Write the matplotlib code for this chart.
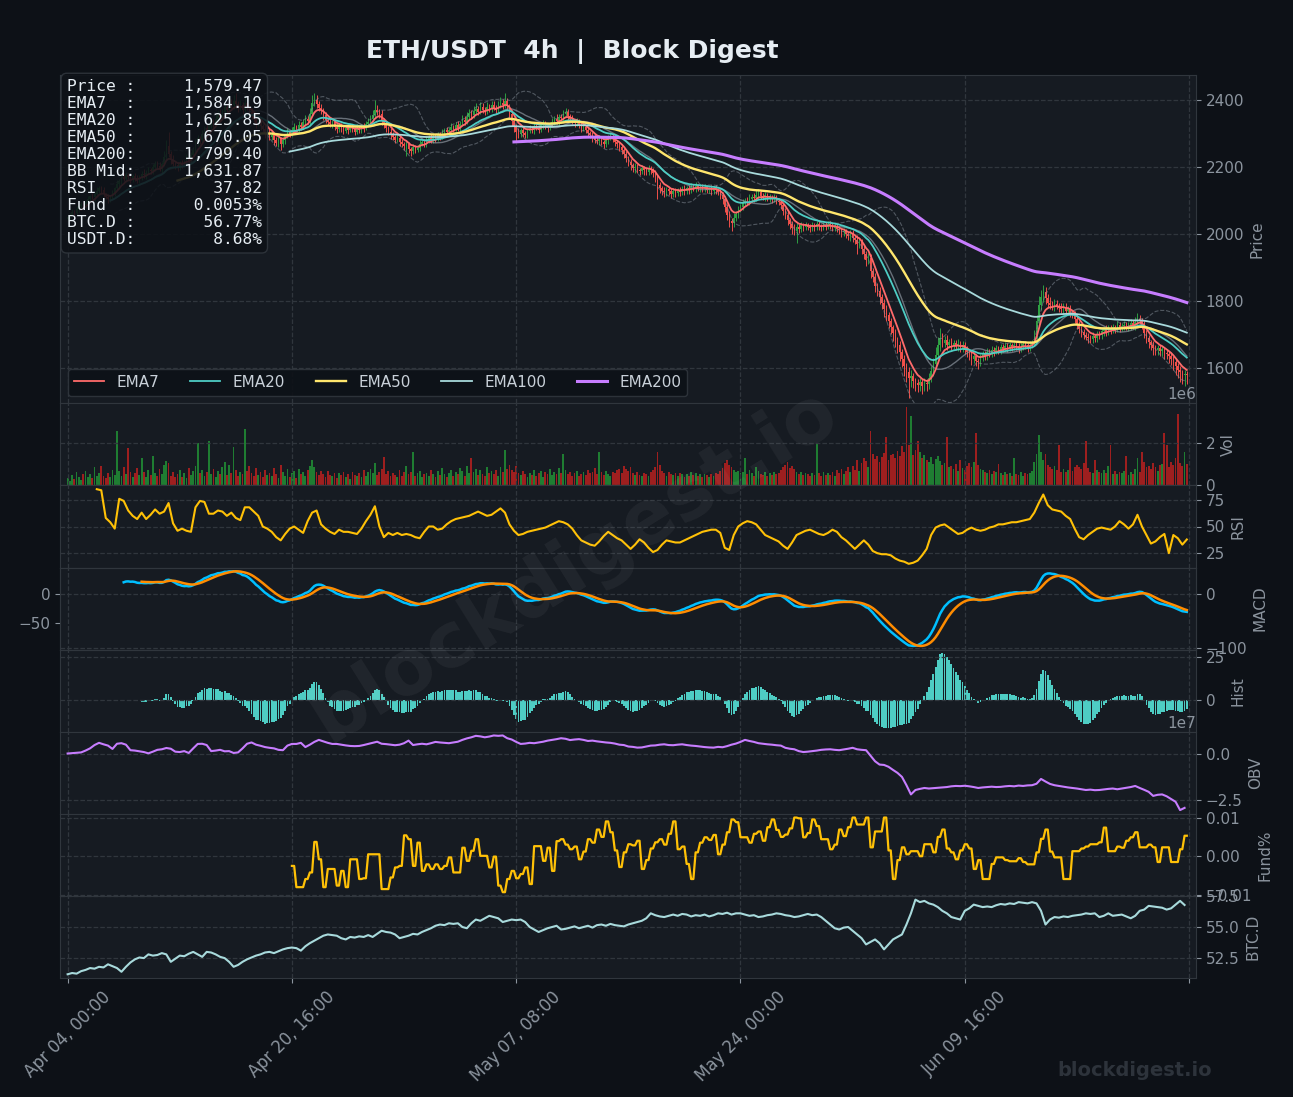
import numpy as np
import pandas as pd
import matplotlib
matplotlib.use('Agg')
import matplotlib.pyplot as plt
from matplotlib.ticker import FuncFormatter

plt.rcParams['font.family'] = ['DejaVu Sans']

# ---- data ----
start = '2023-04-04 00:00'   # 4h candles
first_open = 2045

close = [
 2050, 2058, 2067, 2064, 2075, 2083, 2090, 2088, 2097, 2106,
 2113, 2110, 2121, 2130, 2138, 2132, 2120, 2112, 2104, 2110,
 2124, 2137, 2150, 2158, 2171, 2166, 2178, 2170, 2163, 2175,
 2168, 2160, 2172, 2181, 2176, 2184, 2192, 2187, 2199, 2210,
 2203, 2195, 2208, 2230, 2262, 2240, 2222, 2210, 2205, 2198,
 2212, 2206, 2215, 2228, 2219, 2235, 2252, 2270, 2288, 2281,
 2300, 2316, 2309, 2325, 2338, 2331, 2345, 2358, 2350, 2366,
 2380, 2372, 2390, 2384, 2396, 2388, 2378, 2386, 2370, 2392,
 2381, 2366, 2352, 2345, 2330, 2338, 2322, 2315, 2300, 2306,
 2290, 2296, 2280, 2272, 2286, 2268, 2280, 2292, 2305, 2300,
 2312, 2320, 2314, 2326, 2320, 2334, 2345, 2338, 2360, 2392,
 2401, 2388, 2376, 2370, 2355, 2342, 2336, 2328, 2334, 2320,
 2314, 2322, 2316, 2308, 2318, 2312, 2320, 2314, 2306, 2318,
 2310, 2322, 2316, 2328, 2334, 2345, 2356, 2372, 2366, 2360,
 2340, 2328, 2318, 2305, 2296, 2290, 2282, 2288, 2276, 2270,
 2262, 2268, 2255, 2248, 2260, 2252, 2258, 2270, 2276, 2268,
 2282, 2288, 2280, 2292, 2286, 2295, 2290, 2300, 2310, 2305,
 2312, 2320, 2315, 2326, 2318, 2330, 2342, 2336, 2350, 2362,
 2355, 2368, 2374, 2366, 2380, 2372, 2368, 2380, 2375, 2386,
 2378, 2370, 2384, 2392, 2385, 2398, 2382, 2360, 2338, 2322,
 2305, 2298, 2310, 2302, 2296, 2308, 2315, 2310, 2322, 2318,
 2312, 2325, 2330, 2322, 2318, 2328, 2336, 2344, 2338, 2350,
 2346, 2358, 2364, 2352, 2345, 2338, 2332, 2336, 2326, 2318,
 2320, 2310, 2302, 2296, 2288, 2282, 2278, 2284, 2276, 2270,
 2280, 2288, 2292, 2284, 2276, 2268, 2260, 2250, 2240, 2226,
 2215, 2205, 2196, 2200, 2192, 2188, 2196, 2190, 2186, 2194,
 2190, 2182, 2170, 2148, 2138, 2130, 2125, 2134, 2128, 2120,
 2130, 2124, 2132, 2126, 2136, 2130, 2138, 2132, 2141, 2136,
 2145, 2138, 2142, 2135, 2140, 2133, 2136, 2130, 2138, 2132,
 2126, 2118, 2105, 2082, 2058, 2040, 2032, 2048, 2060, 2074,
 2082, 2092, 2100, 2098, 2106, 2112, 2108, 2118, 2126, 2114,
 2110, 2116, 2108, 2112, 2104, 2110, 2100, 2096, 2088, 2070,
 2058, 2042, 2030, 2018, 2010, 2022, 2016, 2026, 2020, 2028,
 2022, 2018, 2026, 2021, 2030, 2024, 2020, 2028, 2022, 2030,
 2026, 2019, 2024, 2016, 2012, 2005, 2008, 2000, 1994, 2002,
 1990, 1984, 1972, 1978, 1956, 1940, 1924, 1930, 1890, 1872,
 1845, 1830, 1812, 1795, 1776, 1760, 1740, 1722, 1706, 1684,
 1668, 1648, 1628, 1606, 1588, 1570, 1576, 1562, 1556, 1550,
 1558, 1548, 1556, 1552, 1570, 1592, 1612, 1640, 1668, 1690,
 1676, 1684, 1670, 1678, 1668, 1674, 1666, 1672, 1660, 1668,
 1655, 1648, 1640, 1628, 1636, 1622, 1618, 1630, 1642, 1636,
 1648, 1644, 1655, 1650, 1660, 1654, 1662, 1658, 1666, 1660,
 1668, 1662, 1670, 1666, 1658, 1664, 1672, 1668, 1660, 1670,
 1676, 1700, 1742, 1790, 1812, 1826, 1808, 1796, 1790, 1784,
 1792, 1786, 1780, 1776, 1784, 1772, 1778, 1766, 1760, 1746,
 1730, 1718, 1708, 1700, 1694, 1690, 1686, 1695, 1690, 1702,
 1698, 1710, 1716, 1708, 1720, 1714, 1722, 1716, 1728, 1720,
 1726, 1730, 1722, 1728, 1734, 1726, 1738, 1748, 1742, 1730,
 1706, 1690, 1678, 1668, 1660, 1654, 1660, 1652, 1656, 1646,
 1642, 1636, 1628, 1618, 1606, 1596, 1588, 1580, 1584, 1579.47,
]

up_wick = [
 6, 4, 8, 5, 9, 3, 7, 10, 5, 8,   4, 9, 6, 12, 7, 5, 10, 4, 8, 6,
 9, 5, 11, 7, 6, 12, 8, 4, 9, 6,   7, 10, 5, 8, 13, 6, 9, 5, 11, 7,
 8, 12, 6, 18, 20, 43, 9, 14, 6, 10,   5, 9, 7, 12, 6, 10, 8, 14, 9, 6,
 11, 7, 13, 8, 10, 6, 12, 9, 15, 7,   22, 10, 30, 12, 18, 25, 9, 14, 8, 20,
 10, 7, 12, 6, 9, 11, 5, 8, 10, 6,   8, 12, 6, 9, 7, 5, 10, 8, 12, 7,
 9, 11, 6, 13, 8, 10, 12, 7, 18, 22,   19, 14, 9, 11, 7, 10, 6, 12, 8, 5,
 9, 7, 11, 6, 8, 10, 5, 9, 7, 12,   6, 8, 11, 9, 14, 10, 16, 28, 12, 8,
 10, 7, 9, 6, 11, 8, 5, 10, 7, 9,   6, 12, 8, 5, 10, 7, 9, 11, 6, 8,
 10, 7, 12, 8, 6, 11, 9, 13, 7, 10,   8, 11, 6, 9, 12, 7, 14, 10, 16, 12,
 9, 13, 18, 8, 15, 11, 7, 14, 9, 12,   10, 8, 13, 16, 11, 24, 9, 7, 11, 6,
 8, 12, 7, 10, 6, 9, 11, 8, 12, 7,   9, 6, 11, 8, 10, 7, 12, 9, 14, 10,
 8, 13, 14, 9, 7, 11, 6, 10, 8, 5,   9, 7, 10, 6, 8, 11, 7, 12, 9, 6,
 10, 8, 12, 7, 9, 6, 8, 10, 7, 9,   6, 9, 7, 11, 8, 6, 10, 7, 9, 12,
 8, 6, 10, 7, 9, 5, 11, 8, 6, 10,   7, 9, 6, 10, 8, 11, 7, 9, 12, 8,
 10, 6, 9, 7, 11, 8, 6, 10, 7, 9,   6, 8, 7, 10, 9, 12, 8, 14, 10, 11,
 9, 12, 8, 10, 14, 9, 11, 16, 10, 7,   8, 11, 7, 9, 6, 10, 8, 7, 9, 6,
 8, 10, 6, 9, 12, 11, 8, 10, 7, 9,   6, 9, 11, 7, 10, 8, 6, 9, 7, 10,
 8, 6, 10, 7, 9, 6, 11, 8, 7, 10,   9, 7, 12, 10, 8, 11, 9, 14, 10, 8,
 12, 9, 11, 8, 10, 13, 9, 11, 8, 12,   10, 14, 9, 12, 10, 15, 18, 11, 9, 13,
 12, 10, 14, 11, 16, 15, 18, 22, 26, 30,   14, 12, 16, 10, 13, 9, 11, 14, 8, 12,
 9, 11, 8, 10, 12, 7, 9, 13, 10, 8,   11, 9, 12, 8, 10, 7, 11, 9, 12, 8,
 10, 7, 9, 11, 8, 12, 9, 10, 7, 11,   9, 14, 18, 25, 20, 22, 15, 12, 16, 10,
 13, 11, 9, 14, 10, 12, 9, 11, 8, 10,   9, 12, 8, 10, 7, 11, 9, 13, 8, 10,
 9, 11, 8, 12, 10, 9, 11, 8, 12, 10,   9, 12, 8, 11, 13, 10, 16, 18, 12, 9,
 11, 8, 10, 7, 12, 9, 10, 8, 11, 7,   10, 8, 12, 9, 11, 8, 10, 7, 12, 9,
]

dn_wick = [
 5, 8, 4, 9, 6, 10, 5, 7, 9, 4,   8, 6, 10, 5, 7, 12, 9, 6, 11, 8,
 6, 9, 5, 10, 7, 8, 11, 6, 9, 7,   10, 8, 6, 9, 7, 11, 5, 8, 6, 10,
 9, 7, 11, 6, 8, 10, 14, 8, 12, 9,   7, 10, 6, 9, 11, 8, 6, 10, 7, 12,
 8, 6, 11, 9, 7, 12, 8, 10, 6, 9,   10, 8, 12, 7, 9, 11, 14, 8, 10, 6,
 9, 12, 8, 10, 14, 7, 11, 9, 12, 8,   10, 8, 13, 9, 11, 18, 7, 10, 6, 9,
 8, 11, 7, 10, 9, 6, 12, 8, 10, 7,   9, 12, 8, 10, 13, 9, 11, 7, 10, 8,
 11, 8, 10, 9, 7, 12, 8, 10, 11, 7,   9, 8, 10, 6, 9, 7, 11, 8, 10, 12,
 14, 10, 12, 9, 11, 8, 10, 7, 12, 9,   11, 30, 12, 14, 9, 11, 8, 10, 7, 9,
 8, 10, 7, 9, 11, 8, 10, 6, 9, 8,   9, 7, 10, 8, 11, 9, 7, 10, 8, 6,
 10, 8, 9, 11, 7, 10, 12, 8, 9, 11,   8, 12, 9, 7, 10, 8, 12, 14, 16, 18,
 30, 12, 9, 11, 8, 10, 7, 9, 11, 8,   10, 8, 11, 9, 12, 7, 9, 10, 8, 11,
 9, 11, 8, 12, 10, 9, 11, 8, 10, 12,   11, 9, 12, 10, 14, 11, 9, 12, 10, 13,
 9, 11, 8, 10, 12, 11, 13, 10, 14, 12,   11, 13, 10, 12, 9, 11, 8, 12, 10, 9,
 11, 12, 14, 42, 16, 12, 14, 10, 12, 11,   9, 12, 10, 11, 8, 12, 9, 11, 10, 8,
 11, 9, 12, 10, 8, 11, 9, 12, 10, 11,   9, 12, 14, 16, 15, 18, 22, 12, 10, 11,
 9, 11, 8, 12, 10, 9, 11, 8, 12, 10,   9, 11, 8, 12, 10, 9, 11, 10, 12, 14,
 13, 15, 16, 18, 14, 35, 12, 10, 11, 9,   10, 12, 9, 11, 8, 12, 10, 9, 11, 8,
 12, 10, 11, 9, 13, 14, 11, 12, 10, 13,   12, 14, 30, 12, 16, 15, 18, 14, 20, 16,
 18, 15, 20, 17, 22, 18, 21, 19, 24, 20,   22, 26, 24, 30, 28, 60, 26, 22, 25, 20,
 18, 24, 16, 20, 15, 12, 14, 10, 12, 16,   14, 12, 16, 11, 13, 10, 12, 14, 11, 13,
 12, 14, 16, 18, 12, 15, 20, 12, 10, 13,   11, 12, 10, 13, 9, 11, 12, 10, 8, 11,
 10, 12, 9, 11, 13, 10, 9, 12, 11, 10,   9, 8, 12, 14, 16, 13, 15, 12, 14, 11,
 12, 10, 13, 11, 14, 12, 10, 13, 11, 12,   14, 12, 15, 13, 11, 14, 12, 10, 13, 11,
 12, 10, 13, 11, 9, 12, 10, 11, 9, 12,   10, 12, 9, 11, 13, 10, 12, 9, 11, 14,
 16, 14, 18, 15, 20, 16, 14, 17, 15, 18,   16, 20, 18, 22, 26, 24, 30, 28, 32, 26,
]

# volume, millions of ETH
volume = [
 0.35, 0.22, 0.48, 0.30, 0.62, 0.41, 0.28, 0.55, 0.70, 0.38,
 0.52, 0.33, 0.85, 0.44, 0.60, 0.92, 0.47, 0.36, 0.58, 0.40,
 0.75, 0.50, 2.60, 0.68, 0.45, 0.88, 0.54, 1.75, 0.62, 0.39,
 0.57, 0.83, 0.48, 1.30, 0.66, 0.41, 0.72, 0.50, 1.40, 0.61,
 0.44, 0.79, 0.53, 0.95, 1.15, 1.05, 0.47, 0.63, 0.38, 0.56,
 0.74, 0.42, 0.60, 0.35, 0.82, 0.51, 0.67, 0.90, 2.00, 0.58,
 0.71, 0.46, 0.64, 2.10, 0.55, 0.77, 0.40, 0.69, 0.52, 0.86,
 1.10, 0.48, 0.95, 0.61, 1.80, 0.73, 0.45, 0.66, 0.54, 2.65,
 0.70, 0.92, 0.57, 0.43, 0.81, 0.49, 0.65, 0.38, 0.72, 0.51,
 0.60, 0.44, 0.83, 0.55, 0.37, 0.98, 0.62, 0.47, 0.76, 0.41,
 0.58, 0.69, 0.35, 0.80, 0.52, 0.64, 0.45, 0.73, 0.90, 1.20,
 0.85, 0.62, 0.48, 0.70, 0.55, 0.39, 0.67, 0.51, 0.44, 0.60,
 0.36, 0.57, 0.48, 0.66, 0.42, 0.54, 0.31, 0.63, 0.50, 0.45,
 0.59, 0.38, 0.71, 0.47, 0.64, 0.80, 0.58, 1.05, 0.49, 0.62,
 0.77, 1.35, 0.56, 0.68, 0.43, 0.59, 0.51, 0.40, 0.72, 0.47,
 0.63, 0.90, 0.54, 0.66, 1.60, 0.45, 0.58, 0.70, 0.41, 0.52,
 0.61, 0.46, 0.75, 0.53, 0.38, 0.67, 0.49, 0.84, 0.56, 0.42,
 0.60, 0.74, 0.47, 0.65, 0.52, 0.81, 0.69, 0.44, 0.93, 0.58,
 1.30, 0.62, 0.77, 0.50, 0.71, 0.55, 0.43, 0.88, 0.60, 0.68,
 0.52, 0.74, 0.47, 0.85, 0.63, 1.70, 0.80, 0.95, 0.72, 0.66,
 0.90, 0.58, 0.49, 0.67, 0.54, 0.42, 0.61, 0.50, 0.73, 0.45,
 0.57, 0.68, 0.41, 0.62, 0.52, 0.76, 0.48, 0.66, 0.55, 0.83,
 0.60, 1.50, 0.71, 0.53, 0.64, 0.47, 0.58, 0.69, 0.44, 0.56,
 0.62, 0.49, 0.75, 0.57, 0.66, 0.81, 0.52, 1.60, 0.63, 0.48,
 0.70, 0.55, 0.43, 0.64, 0.58, 0.72, 0.80, 0.61, 0.93, 0.76,
 0.68, 0.85, 0.57, 0.49, 0.63, 0.51, 0.45, 0.60, 0.54, 0.47,
 0.66, 0.73, 0.88, 1.60, 0.95, 0.70, 0.58, 0.46, 0.62, 0.53,
 0.49, 0.57, 0.44, 0.61, 0.52, 0.40, 0.55, 0.47, 0.63, 0.50,
 0.58, 0.45, 0.52, 0.41, 0.56, 0.48, 0.39, 0.54, 0.46, 0.60,
 0.55, 0.68, 0.82, 1.05, 1.20, 0.96, 0.88, 0.74, 0.62, 0.70,
 0.58, 0.66, 1.30, 0.52, 0.73, 0.60, 0.47, 0.85, 0.69, 0.55,
 0.50, 0.62, 0.45, 0.57, 0.49, 0.64, 0.53, 0.60, 0.71, 0.88,
 0.95, 1.10, 0.84, 0.92, 0.78, 0.66, 0.55, 0.62, 0.48, 0.59,
 0.52, 0.45, 0.61, 0.50, 2.00, 0.57, 0.44, 0.63, 0.49, 0.58,
 0.51, 0.66, 0.47, 0.72, 0.60, 0.78, 0.53, 0.69, 0.85, 0.62,
 0.90, 0.75, 1.20, 0.68, 1.05, 1.30, 1.15, 0.88, 2.60, 1.50,
 1.25, 1.40, 1.10, 1.35, 1.55, 2.30, 1.20, 1.45, 1.50, 1.30,
 1.65, 1.40, 1.85, 1.60, 3.70, 1.90, 3.30, 1.45, 1.70, 2.10,
 1.60, 1.30, 1.45, 1.20, 1.10, 1.35, 1.00, 1.25, 1.40, 1.15,
 0.95, 1.05, 2.30, 0.85, 0.92, 0.78, 1.00, 0.70, 1.20, 0.82,
 0.75, 0.90, 1.05, 0.88, 1.10, 2.50, 0.95, 0.80, 0.72, 0.66,
 0.60, 0.74, 0.55, 0.68, 0.62, 1.00, 0.58, 0.49, 0.65, 0.54,
 0.61, 0.47, 1.30, 0.56, 0.50, 0.63, 0.45, 0.58, 0.52, 0.60,
 0.70, 1.10, 1.50, 2.40, 1.60, 1.20, 1.50, 0.95, 0.85, 0.78,
 0.90, 0.72, 1.90, 0.66, 0.80, 0.62, 0.75, 1.30, 0.68, 0.85,
 0.95, 0.88, 0.76, 1.05, 2.10, 0.82, 0.64, 0.59, 1.20, 0.71,
 0.66, 0.58, 0.74, 0.61, 0.90, 1.90, 0.55, 0.68, 0.52, 0.63,
 0.57, 0.70, 1.40, 0.49, 0.62, 0.55, 0.78, 1.30, 0.66, 1.60,
 1.10, 0.85, 0.92, 0.76, 1.05, 0.88, 0.70, 0.95, 1.00, 2.50,
 1.90, 0.85, 1.10, 0.95, 1.30, 3.40, 1.05, 0.90, 1.60, 1.00,
]

# RSI(14), one reading every 2 candles starting at candle 13
rsi = [
 85, 84, 58, 54, 48, 76, 74, 65, 60, 57,
 63, 57, 61, 66, 62, 64, 72, 53, 46, 48,
 46, 45, 68, 74, 73, 62, 62, 65, 64, 60,
 63, 58, 56, 68, 68, 64, 60, 50, 48, 45,
 40, 37, 43, 48, 50, 47, 44, 55, 63, 65,
 52, 48, 45, 43, 47, 45, 45, 44, 43, 48,
 55, 61, 69, 50, 40, 44, 42, 44, 42, 43,
 42, 40, 39, 45, 50, 50, 47, 48, 52, 55,
 57, 58, 59, 60, 62, 64, 62, 60, 61, 64,
 67, 63, 52, 46, 42, 43, 45, 46, 47, 48,
 49, 51, 53, 55, 54, 52, 48, 42, 37, 35,
 33, 32, 36, 41, 45, 42, 39, 37, 33, 29,
 33, 38, 35, 30, 26, 28, 33, 37, 36, 35,
 35, 37, 39, 41, 43, 45, 46, 47, 47, 44,
 30, 28, 42, 50, 53, 55, 54, 52, 47, 42,
 40, 38, 36, 32, 29, 35, 42, 44, 46, 47,
 45, 43, 42, 44, 47, 45, 40, 37, 33, 29,
 33, 37, 33, 27, 25, 24, 24, 23, 20, 18,
 17, 15, 16, 18, 23, 29, 42, 49, 51, 52,
 49, 46, 43, 44, 47, 49, 47, 46, 47, 49,
 50, 52, 52, 53, 54, 54, 55, 56, 57, 63,
 72, 80, 70, 66, 65, 64, 60, 57, 48, 40,
 38, 42, 45, 48, 49, 48, 47, 50, 55, 52,
 48, 52, 61, 50, 42, 34, 36, 40, 43, 25,
 42, 39, 33, 37.82,
]
rsi_start = 13

# OBV (x1e7), one reading every 2 candles
obv = [
 0.02, 0.04, 0.06, 0.08, 0.18, 0.30, 0.48, 0.60, 0.52, 0.45,
 0.27, 0.55, 0.58, 0.50, 0.20, 0.18, 0.14, 0.10, 0.03, 0.12,
 0.22, 0.25, 0.32, 0.28, 0.12, 0.10, 0.15, 0.05, 0.30, 0.54,
 0.55, 0.48, 0.15, 0.18, 0.22, 0.14, 0.15, 0.05, 0.08, 0.30,
 0.55, 0.62, 0.50, 0.44, 0.37, 0.33, 0.30, 0.22, 0.20, 0.45,
 0.54, 0.54, 0.60, 0.37, 0.50, 0.65, 0.76, 0.68, 0.60, 0.54,
 0.54, 0.50, 0.46, 0.43, 0.42, 0.43, 0.48, 0.54, 0.60, 0.66,
 0.55, 0.53, 0.50, 0.47, 0.50, 0.58, 0.72, 0.48, 0.52, 0.55,
 0.52, 0.58, 0.65, 0.62, 0.60, 0.58, 0.62, 0.66, 0.76, 0.84,
 0.90, 0.98, 0.95, 0.90, 0.94, 1.00, 0.98, 1.00, 0.85, 0.78,
 0.65, 0.54, 0.56, 0.60, 0.58, 0.62, 0.66, 0.72, 0.76, 0.80,
 0.85, 0.82, 0.75, 0.78, 0.80, 0.76, 0.70, 0.72, 0.68, 0.65,
 0.62, 0.60, 0.56, 0.50, 0.48, 0.40, 0.38, 0.34, 0.35, 0.40,
 0.45, 0.46, 0.50, 0.52, 0.48, 0.47, 0.50, 0.52, 0.48, 0.45,
 0.43, 0.40, 0.37, 0.35, 0.34, 0.38, 0.36, 0.42, 0.50, 0.56,
 0.65, 0.76, 0.70, 0.65, 0.58, 0.55, 0.52, 0.50, 0.47, 0.45,
 0.33, 0.28, 0.25, 0.15, 0.10, 0.12, 0.15, 0.18, 0.22, 0.24,
 0.25, 0.22, 0.20, 0.24, 0.28, 0.33, 0.25, 0.22, 0.20, -0.10,
 -0.40, -0.58, -0.60, -0.70, -0.87, -1.03, -1.25, -1.70, -2.20, -1.96,
 -1.90, -1.85, -1.88, -1.86, -1.84, -1.82, -1.80, -1.76, -1.74, -1.75,
 -1.73, -1.76, -1.80, -1.85, -1.82, -1.80, -1.78, -1.80, -1.79, -1.76,
 -1.74, -1.76, -1.72, -1.74, -1.71, -1.70, -1.62, -1.36, -1.50, -1.63,
 -1.70, -1.74, -1.78, -1.82, -1.85, -1.88, -1.92, -1.96, -1.94, -1.97,
 -1.96, -1.93, -1.90, -1.88, -1.92, -1.88, -1.84, -1.80, -1.74, -1.85,
 -1.95, -2.06, -2.28, -2.22, -2.20, -2.30, -2.45, -2.60, -3.05, -2.93,
]

# funding rate in %, one print per 8h, starting Apr 20 16:00
funding = [
 -0.0025, -0.0080, -0.0080, -0.0059, -0.0042, 0.0037, -0.0008, -0.0080, -0.0033, -0.0033,
 -0.0076, -0.0038, -0.0080, -0.0008, -0.0008, -0.0059, -0.0057, 0.0005, 0.0005, 0.0005,
 -0.0085, -0.0085, -0.0055, -0.0029, -0.0025, 0.0054, 0.0044, -0.0025, 0.0035, -0.0038,
 -0.0021, -0.0033, -0.0021, -0.0033, -0.0025, -0.0003, -0.0042, -0.0042, 0.0022, -0.0012,
 0.0014, 0.0044, 0.0001, 0.0001, -0.0029, -0.0001, -0.0076, -0.0093, -0.0059, -0.0038,
 -0.0057, -0.0046, -0.0029, -0.0072, 0.0026, 0.0026, -0.0012, 0.0022, -0.0038, 0.0039,
 0.0044, 0.0030, 0.0018, 0.0025, -0.0008, 0.0012, 0.0044, 0.0035, 0.0069, 0.0050,
 0.0090, 0.0062, 0.0015, -0.0028, 0.0010, 0.0031, 0.0028, 0.0040, -0.0033, -0.0010,
 0.0020, 0.0036, 0.0044, 0.0030, 0.0058, 0.0090, 0.0018, 0.0025, -0.0020, -0.0059,
 0.0010, 0.0035, 0.0049, 0.0042, 0.0055, 0.0005, 0.0030, 0.0062, 0.0095, 0.0088,
 0.0049, 0.0049, 0.0035, 0.0058, 0.0064, 0.0040, 0.0075, 0.0095, 0.0068, 0.0050,
 0.0056, 0.0072, 0.0100, 0.0098, 0.0049, 0.0060, 0.0095, 0.0078, 0.0044, 0.0044,
 0.0018, 0.0030, 0.0069, 0.0052, 0.0075, 0.0100, 0.0082, 0.0082, 0.0100, 0.0023,
 0.0064, 0.0064, 0.0100, 0.0015, -0.0059, -0.0010, 0.0023, 0.0005, 0.0013, 0.0013,
 0.0000, 0.0031, 0.0031, 0.0010, 0.0050, 0.0069, 0.0020, 0.0010, -0.0008, 0.0015,
 0.0031, 0.0020, -0.0033, -0.0010, -0.0059, -0.0059, -0.0020, -0.0003, -0.0003, -0.0010,
 -0.0013, -0.0013, -0.0005, -0.0015, -0.0021, -0.0021, 0.0010, 0.0045, 0.0069, 0.0012,
 -0.0003, -0.0003, -0.0059, -0.0059, 0.0013, 0.0013, 0.0020, 0.0025, 0.0031, 0.0031,
 0.0036, 0.0074, 0.0013, 0.0013, 0.0025, 0.0022, 0.0040, 0.0049, 0.0062, 0.0023,
 0.0023, 0.0030, 0.0023, -0.0015, 0.0023, 0.0023, -0.0015, -0.0015, 0.0018, 0.0053,
]
funding_start = 100

# BTC dominance %, one reading every 2 candles
btc_d = [
 51.20, 51.30, 51.25, 51.45, 51.55, 51.70, 51.65, 51.80, 51.75, 52.00,
 51.85, 51.70, 51.40, 51.80, 52.15, 52.40, 52.55, 52.50, 52.80, 52.70,
 52.75, 52.90, 52.80, 52.20, 52.45, 52.70, 52.65, 52.85, 53.00, 52.80,
 52.60, 53.00, 52.95, 52.80, 52.60, 52.50, 52.20, 51.80, 51.95, 52.20,
 52.40, 52.55, 52.70, 52.80, 52.95, 53.00, 52.90, 53.05, 53.20, 53.30,
 53.35, 53.30, 53.10, 53.45, 53.70, 53.90, 54.10, 54.30, 54.40, 54.35,
 54.30, 54.10, 54.00, 54.20, 54.15, 54.25, 54.20, 54.35, 54.20, 54.45,
 54.70, 54.60, 54.55, 54.40, 54.10, 54.20, 54.30, 54.45, 54.40, 54.60,
 54.75, 54.90, 55.10, 55.20, 55.15, 55.30, 55.25, 55.30, 55.00, 54.90,
 55.30, 55.60, 55.50, 55.70, 55.90, 55.80, 55.70, 55.40, 55.50, 55.60,
 55.55, 55.60, 55.40, 55.00, 54.80, 54.60, 54.75, 54.90, 55.00, 55.10,
 54.80, 54.85, 54.95, 55.05, 54.90, 55.00, 55.10, 54.95, 55.15, 55.20,
 55.10, 55.25, 55.15, 55.10, 55.05, 55.20, 55.30, 55.40, 55.50, 55.70,
 56.10, 55.95, 55.85, 55.80, 55.90, 56.00, 55.90, 56.05, 56.00, 55.85,
 55.95, 55.90, 56.00, 55.85, 55.95, 56.10, 56.05, 56.15, 56.00, 56.10,
 56.10, 56.00, 55.90, 55.95, 55.80, 55.85, 55.95, 56.00, 56.10, 56.05,
 55.95, 55.90, 55.80, 55.85, 55.95, 56.05, 55.95, 56.00, 55.80, 55.50,
 55.20, 54.90, 54.80, 54.95, 55.00, 54.70, 54.40, 54.10, 53.60, 53.80,
 54.00, 53.70, 53.20, 53.60, 54.00, 54.20, 54.40, 55.20, 56.10, 57.20,
 57.00, 57.10, 56.90, 56.80, 56.60, 56.30, 56.10, 55.80, 55.70, 55.60,
 56.30, 56.50, 56.80, 56.70, 56.60, 56.65, 56.60, 56.75, 56.85, 56.80,
 56.90, 56.85, 57.00, 56.95, 56.90, 57.00, 56.90, 56.30, 55.20, 55.60,
 55.80, 55.75, 55.85, 55.80, 55.90, 55.95, 56.00, 56.10, 56.05, 56.10,
 55.80, 55.90, 56.10, 55.90, 55.95, 56.00, 55.85, 55.70, 55.90, 56.30,
 56.40, 56.70, 56.65, 56.60, 56.55, 56.40, 56.50, 56.80, 57.10, 56.77,
]

info_labels = ['Price', 'EMA7', 'EMA20', 'EMA50', 'EMA200', 'BB Mid', 'RSI', 'Fund', 'BTC.D', 'USDT.D']
info_values = ['1,579.47', '1,584.19', '1,625.85', '1,670.05', '1,799.40', '1,631.87',
               '37.82', '0.0053%', '56.77%', '8.68%']

ema_spans = [7, 20, 50, 100, 200]
ema_colors = ['#ff6b6b', '#4ecdc4', '#ffe66d', '#a8dadc', '#c77dff']
ema_widths = [1.3, 1.3, 1.7, 1.3, 2.2]

# ---- style ----
BG = '#0d1117'
PANEL = '#161b22'
GRID = '#30363d'
TXT = '#8b949e'
UP = '#2ea043'
DN = '#f0504a'

n = len(close)
assert all(len(a) == n for a in (up_wick, dn_wick, volume)), (len(close), len(up_wick), len(dn_wick), len(volume))
dates = pd.date_range(start, periods=n, freq='4h')
idx = np.arange(n)
c = pd.Series(close, dtype=float)
o = np.r_[first_open, c.values[:-1]]
hi = np.maximum(o, c.values) + np.array(up_wick)
lo = np.minimum(o, c.values) - np.array(dn_wick)
vol = np.array(volume) * 1e6
rising = c.values >= o

# indicators from the closes
emas = [c.ewm(span=s, adjust=False, min_periods=s).mean() for s in ema_spans]
bb_mid = c.rolling(20).mean()
bb_sd = c.rolling(20).std()
e12 = c.ewm(span=12, adjust=False, min_periods=12).mean()
e26 = c.ewm(span=26, adjust=False, min_periods=26).mean()
macd = e12 - e26
signal = macd.ewm(span=9, adjust=False, min_periods=9).mean()
hist = macd - signal

fig = plt.figure(figsize=(12.93, 10.97), dpi=100, facecolor=BG)
gs = fig.add_gridspec(8, 1, height_ratios=[4, 1, 1, 1, 1, 1, 1, 1],
                      left=60/1293, right=1196/1293, top=1-75/1097, bottom=1-978/1097, hspace=0)
axes = [fig.add_subplot(gs[0])]
for k in range(1, 8):
    axes.append(fig.add_subplot(gs[k], sharex=axes[0]))

def style(ax, ylabel):
    ax.set_facecolor(PANEL)
    for s in ax.spines.values():
        s.set_color(GRID)
    ax.yaxis.tick_right()
    ax.yaxis.set_label_position('right')
    ax.tick_params(colors=TXT, labelsize=11)
    ax.yaxis.get_offset_text().set_color(TXT)
    ax.yaxis.get_offset_text().set_fontsize(11)
    ax.grid(True, linestyle='--', color=GRID, linewidth=0.9)
    ax.set_ylabel(ylabel, color=TXT, fontsize=11)

labels = ['Price', 'Vol', 'RSI', 'MACD', 'Hist', 'OBV', 'Fund%', 'BTC.D']
for ax, lab in zip(axes, labels):
    style(ax, lab)

# price panel
ax = axes[0]
ax.vlines(idx, lo, hi, colors=np.where(rising, UP, DN), linewidth=0.7, zorder=2)
ax.bar(idx, np.abs(c.values - o), bottom=np.minimum(o, c.values), width=0.65,
       color=np.where(rising, UP, DN), linewidth=0, zorder=2)
ax.plot(idx, bb_mid + 2 * bb_sd, color=TXT, lw=0.8, ls='--', alpha=0.5, zorder=3)
ax.plot(idx, bb_mid - 2 * bb_sd, color=TXT, lw=0.8, ls='--', alpha=0.5, zorder=3)
ax.plot(idx, bb_mid, color=TXT, lw=1.0, alpha=0.7, zorder=3)
for e, s, col, w in zip(emas, ema_spans, ema_colors, ema_widths):
    ax.plot(idx, e, color=col, lw=w, label=f'EMA{s}', zorder=4)
ax.set_ylim(1495, 2475)
leg = ax.legend(loc='lower left', ncol=5, fontsize=11, facecolor=BG, edgecolor=GRID,
                labelcolor='#c9d1d9', framealpha=0.9, borderaxespad=0.5, columnspacing=2.0)
leg.set_zorder(6)

info = '\n'.join(f'{l:<6}:{v:>13}' for l, v in zip(info_labels, info_values))
ax.text(0.006, 0.988, info, transform=ax.transAxes, va='top', ha='left',
        family='DejaVu Sans Mono', fontsize=11.7, color='#e6edf3', linespacing=1.17,
        bbox=dict(boxstyle='round,pad=0.35', fc=BG, ec=GRID, alpha=0.88), zorder=10)

# volume
axes[1].bar(idx, vol, width=0.8, color=np.where(rising, '#1f7d32', '#9e1f1f'), linewidth=0)

# RSI
axes[2].plot(np.arange(rsi_start, rsi_start + 2 * len(rsi), 2), rsi, color='#ffc107', lw=1.5)

# MACD: macd on the right axis, signal on a twin with its own scale on the left
axm = axes[3]
axm.plot(idx, macd, color='#00bfff', lw=1.8)
axs = axm.twinx()
axs.plot(idx, signal, color='#ff8c00', lw=1.8)
axs.yaxis.tick_left()
axs.tick_params(colors=TXT, labelsize=11)
for s in axs.spines.values():
    s.set_color(GRID)
axm.yaxis.tick_right()
axm.yaxis.set_label_position('right')

# histogram
axes[4].bar(idx, hist, width=0.8, color='#4ecdc4', linewidth=0)

# OBV
axes[5].plot(np.arange(0, 2 * len(obv), 2), np.array(obv) * 1e7, color='#c77dff', lw=1.5)

# funding
f_idx = np.arange(funding_start, funding_start + 2 * len(funding))
axes[6].plot(f_idx, np.repeat(funding, 2), color='#ffc107', lw=1.6)

# BTC dominance
axes[7].plot(np.arange(0, 2 * len(btc_d), 2), btc_d, color='#a8dadc', lw=1.5)

# x axis
axes[0].set_xlim(-3.4, 503.1)
axes[0].set_xticks([0, 100, 200, 300, 400, 500])
fmt = FuncFormatter(lambda v, p: dates[int(round(v))].strftime('%b %d, %H:%M') if 0 <= round(v) < n else '')
axes[7].xaxis.set_major_formatter(fmt)
for ax in axes[:-1]:
    ax.tick_params(axis='x', length=0, labelbottom=False)
axes[7].tick_params(axis='x', labelsize=12, colors=TXT)
plt.setp(axes[7].get_xticklabels(), rotation=45)

fig.text(572/1293, 1-52/1097, 'ETH/USDT  4h  |  Block Digest', ha='center', va='center',
         fontsize=18, fontweight='bold', color='#e6edf3')
fig.text(575/1293, 1-565/1097, 'blockdigest.io', ha='center', va='center', rotation=32,
         fontsize=55, fontweight='bold', color='white', alpha=0.05, zorder=20)
fig.text(1135/1293, 1-1070/1097, 'blockdigest.io', ha='center', va='center',
         fontsize=14, fontweight='bold', color='#2d333b')

fig.savefig('out.png', dpi=100, facecolor=BG)
